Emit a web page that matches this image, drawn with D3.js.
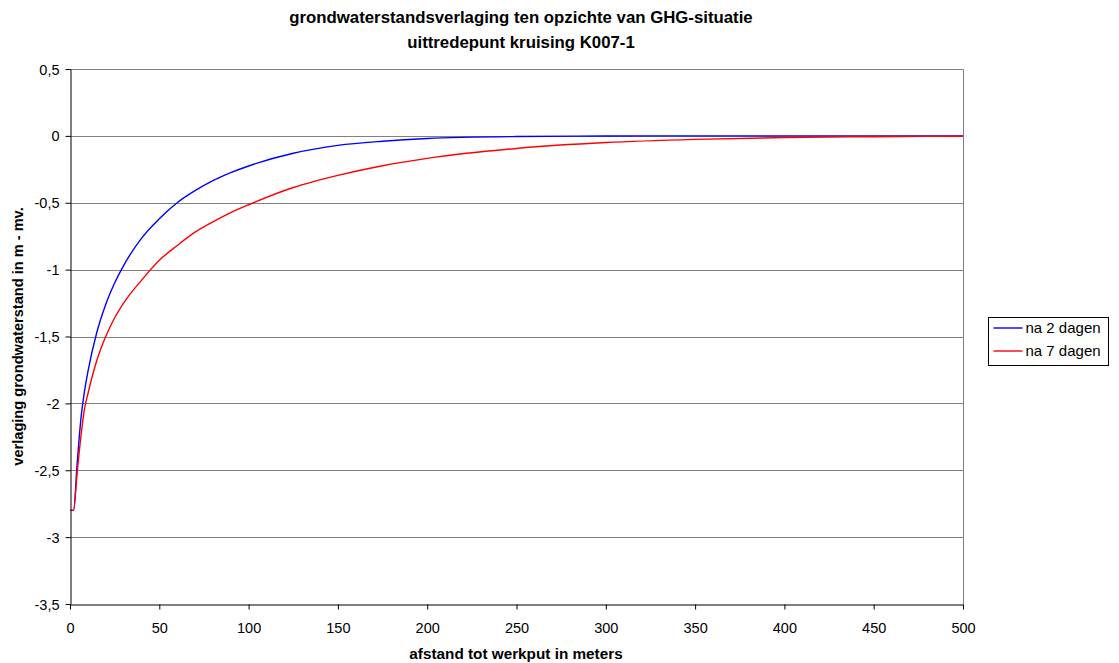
<!DOCTYPE html>
<html>
<head>
<meta charset="utf-8">
<script src="https://cdn.jsdelivr.net/npm/d3@7"></script>
<style>
  html, body { margin: 0; padding: 0; background: #fff; }
  svg { display: block; font-family: "Liberation Sans", Arial, sans-serif; }
</style>
</head>
<body>
<svg id="chart" width="1119" height="663"></svg>
<script>
// Distance from the working pit (m)
const distances = [0, 2, 4, 6, 8, 10, 15, 20, 25, 30, 40, 50, 60, 70, 80, 90, 100, 125, 150, 175, 200, 250, 300, 350, 400, 450, 500];
// Drawdown after 2 days (m - mv.)
const drawdown2 = [-2.80, -2.80, -2.45, -2.13, -1.92, -1.765, -1.47, -1.26, -1.10, -0.97, -0.766, -0.62, -0.50, -0.41, -0.335, -0.275, -0.225, -0.13, -0.071, -0.040, -0.020, -0.005, -0.001, 0, 0, 0, 0];
// Drawdown after 7 days (m - mv.)
const drawdown7 = [-2.80, -2.80, -2.52, -2.26, -2.05, -1.93, -1.68, -1.50, -1.36, -1.25, -1.08, -0.93, -0.82, -0.72, -0.643, -0.574, -0.515, -0.386, -0.295, -0.223, -0.168, -0.094, -0.050, -0.026, -0.0125, -0.006, -0.003];

const seriesNames = ["na 2 dagen", "na 7 dagen"];
const seriesColors = ["#0000ff", "#ff0000"];
const xTicks = [0, 50, 100, 150, 200, 250, 300, 350, 400, 450, 500];
const yTicks = [0.5, 0, -0.5, -1, -1.5, -2, -2.5, -3, -3.5];
const titleLines = ["grondwaterstandsverlaging ten opzichte van GHG-situatie", "uittredepunt kruising K007-1"];
const xTitle = "afstand tot werkput in meters";
const yTitle = "verlaging grondwaterstand in m - mv.";

const svg = d3.select("#chart");
const plot = { left: 70, right: 963, top: 69, bottom: 604 };

const x = d3.scaleLinear().domain([0, 500]).range([plot.left, plot.right]);
const y = d3.scaleLinear().domain([-3.5, 0.5]).range([plot.bottom, plot.top]);

const fmt = v => String(v).replace(".", ",");

// Horizontal gridlines
svg.append("g")
  .selectAll("line")
  .data(yTicks.filter(t => t !== 0.5 && t !== -3.5))
  .join("line")
  .attr("x1", plot.left).attr("x2", plot.right)
  .attr("y1", d => Math.round(y(d)) + 0.5).attr("y2", d => Math.round(y(d)) + 0.5)
  .attr("stroke", "#808080").attr("stroke-width", 1);

// Plot area border (top and right)
svg.append("path")
  .attr("d", `M${plot.left},${plot.top + 0.5}H${plot.right + 0.5}V${plot.bottom}`)
  .attr("fill", "none").attr("stroke", "#808080").attr("stroke-width", 1);

// Series lines
const line = d3.line()
  .x(d => x(d[0]))
  .y(d => y(d[1]))
  .curve(d3.curveMonotoneX);

[drawdown2, drawdown7].forEach((vals, i) => {
  svg.append("path")
    .datum(distances.map((d, j) => [d, vals[j]]))
    .attr("d", line)
    .attr("fill", "none")
    .attr("stroke", seriesColors[i])
    .attr("stroke-width", 1.4);
});

// Axes
const xAxis = svg.append("g")
  .attr("transform", `translate(0,${plot.bottom + 0.5})`)
  .call(d3.axisBottom(x).tickValues(xTicks).tickFormat(fmt).tickSize(5).tickSizeOuter(0));
const yAxis = svg.append("g")
  .attr("transform", `translate(${plot.left + 0.5},0)`)
  .call(d3.axisLeft(y).tickValues(yTicks).tickFormat(fmt).tickSize(5).tickSizeOuter(0));

[xAxis, yAxis].forEach(g => {
  g.select(".domain").attr("stroke", "#000");
  g.selectAll(".tick line").attr("stroke", "#000");
  g.selectAll("text").attr("fill", "#000").attr("font-size", 14.5)
    .attr("font-family", "'Liberation Sans', Arial, sans-serif");
});
xAxis.selectAll("text").attr("dy", null).attr("y", 28);
yAxis.selectAll("text").attr("x", -11).attr("dy", "0.35em");

// Titles
svg.append("g").selectAll("text")
  .data(titleLines)
  .join("text")
  .attr("x", 521).attr("y", (d, i) => 23 + i * 25)
  .attr("text-anchor", "middle")
  .attr("font-weight", "bold").attr("font-size", 16.8)
  .text(d => d);

svg.append("text")
  .attr("x", 516).attr("y", 659)
  .attr("text-anchor", "middle")
  .attr("font-weight", "bold").attr("font-size", 15.3)
  .text(xTitle);

svg.append("text")
  .attr("transform", `translate(23,${(plot.top + plot.bottom) / 2}) rotate(-90)`)
  .attr("text-anchor", "middle")
  .attr("font-weight", "bold").attr("font-size", 14.6)
  .text(yTitle);

// Legend
const legend = svg.append("g").attr("transform", "translate(988.5,317.5)");
legend.append("rect")
  .attr("width", 120).attr("height", 48)
  .attr("fill", "#fff").attr("stroke", "#000").attr("stroke-width", 1);
seriesNames.forEach((name, i) => {
  const cy = 10.5 + i * 23;
  legend.append("line")
    .attr("x1", 5).attr("x2", 34).attr("y1", cy).attr("y2", cy)
    .attr("stroke", seriesColors[i]).attr("stroke-width", 1.4);
  legend.append("text")
    .attr("x", 37).attr("y", cy).attr("dy", "0.35em")
    .attr("font-size", 15)
    .text(name);
});
</script>
</body>
</html>
